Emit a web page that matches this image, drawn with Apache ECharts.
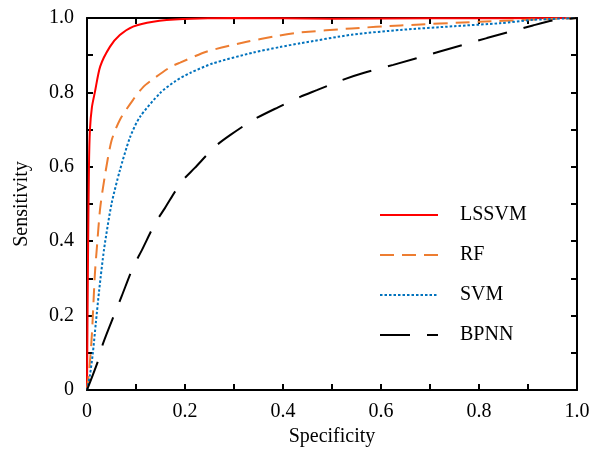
<!DOCTYPE html>
<html>
<head>
<meta charset="utf-8">
<script src="https://cdn.jsdelivr.net/npm/echarts@6/dist/echarts.min.js"></script>
<style>html,body{margin:0;padding:0;background:#fff}#c{width:603px;height:451px}</style>
</head>
<body>
<div id="c"></div>
<script>
const seriesNames = ['LSSVM', 'RF', 'SVM', 'BPNN'];
const lssvmX = [0, 0.002, 0.004, 0.006, 0.01, 0.016, 0.027, 0.047, 0.067, 0.094, 0.135, 0.196, 0.3, 0.5, 0.7, 1.0];
const lssvmY = [0, 0.35, 0.6, 0.70, 0.76, 0.80, 0.87, 0.923, 0.954, 0.977, 0.99, 0.997, 1.0, 0.998, 0.999, 1.0];
const rfX = [0, 0.005, 0.01, 0.016, 0.02, 0.027, 0.037, 0.05, 0.067, 0.094, 0.115, 0.132, 0.17, 0.19, 0.245, 0.326, 0.388, 0.435, 0.54, 0.64, 0.8, 0.9, 1.0];
const rfY = [0, 0.06, 0.15, 0.31, 0.38, 0.49, 0.58, 0.67, 0.726, 0.78, 0.815, 0.833, 0.868, 0.88, 0.91, 0.936, 0.952, 0.961, 0.972, 0.98, 0.99, 0.995, 1.0];
const svmX = [0, 0.006, 0.012, 0.018, 0.025, 0.035, 0.05, 0.067, 0.088, 0.108, 0.149, 0.18, 0.21, 0.257, 0.339, 0.394, 0.435, 0.54, 0.64, 0.75, 0.843, 0.91, 1.0];
const svmY = [0, 0.04, 0.1, 0.18, 0.27, 0.38, 0.5, 0.59, 0.68, 0.734, 0.798, 0.83, 0.852, 0.878, 0.907, 0.922, 0.932, 0.955, 0.968, 0.978, 0.986, 0.995, 1.0];
const bpnnX = [0, 0.023, 0.033, 0.057, 0.071, 0.094, 0.112, 0.139, 0.159, 0.193, 0.22, 0.261, 0.292, 0.339, 0.39, 0.435, 0.469, 0.52, 0.564, 0.625, 0.72, 0.816, 0.91, 0.95, 1.0];
const bpnnY = [0, 0.08, 0.126, 0.207, 0.253, 0.33, 0.376, 0.448, 0.489, 0.56, 0.597, 0.654, 0.685, 0.726, 0.76, 0.788, 0.806, 0.833, 0.852, 0.874, 0.91, 0.946, 0.98, 0.993, 1.0];

const pairs = (xs, ys) => xs.map((x, i) => [x, ys[i]]);
const font = 'Liberation Serif';
const fmt = v => {
  const k = Math.round(v * 10);
  if (k % 2 !== 0) return '';
  return k === 0 ? '0' : (k / 10).toFixed(1);
};
const baseAxis = {
  type: 'value', min: 0, max: 1, interval: 0.1,
  axisLine: { show: true, onZero: false, lineStyle: { color: '#000', width: 2 } },
  axisTick: { show: true, inside: true, length: 6, lineStyle: { color: '#000', width: 2 } },
  splitLine: { show: false },
  nameTextStyle: { fontFamily: font, fontSize: 20, color: '#000' }
};
const chart = echarts.init(document.getElementById('c'), null, { renderer: 'canvas' });
const mk = (name, xs, ys, color, type) => ({
  name, type: 'line', data: pairs(xs, ys), showSymbol: false, symbol: 'none',
  smooth: 0.25, clip: true,
  lineStyle: { color, width: 2, type, cap: 'butt' },
  itemStyle: { color }
});
chart.setOption({
  animation: false,
  grid: { left: 87, right: 26, top: 18, bottom: 61, containLabel: false, outerBoundsMode: 'none' },
  xAxis: [
    Object.assign({}, baseAxis, {
      position: 'bottom', name: 'Specificity', nameLocation: 'middle', nameGap: 37,
      axisLabel: { formatter: fmt, fontFamily: font, fontSize: 20, color: '#000', margin: 12 }
    }),
    Object.assign({}, baseAxis, { position: 'top', axisLabel: { show: false } })
  ],
  yAxis: [
    Object.assign({}, baseAxis, {
      position: 'left', name: 'Sensitivity', nameLocation: 'middle', nameGap: 55, nameRotate: 90,
      axisLabel: { formatter: fmt, fontFamily: font, fontSize: 20, color: '#000', margin: 13 }
    }),
    Object.assign({}, baseAxis, { position: 'right', axisLabel: { show: false } })
  ],
  legend: {
    show: true,
    orient: 'vertical', left: 374, top: 200, itemWidth: 58, itemHeight: 14, itemGap: 20,
    data: seriesNames,
    itemStyle: { color: 'rgba(0,0,0,0)', borderWidth: 0 },
    textStyle: { fontFamily: font, fontSize: 20, color: '#000', padding: [0, 0, 0, 17] }
  },
  series: [
    mk('LSSVM', lssvmX, lssvmY, '#ff0000', 'solid'),
    mk('RF', rfX, rfY, '#ed7d31', [14, 8]),
    mk('SVM', svmX, svmY, '#0072bd', [2.5, 2]),
    mk('BPNN', bpnnX, bpnnY, '#000000', [30, 17])
  ]
});
</script>
</body>
</html>
